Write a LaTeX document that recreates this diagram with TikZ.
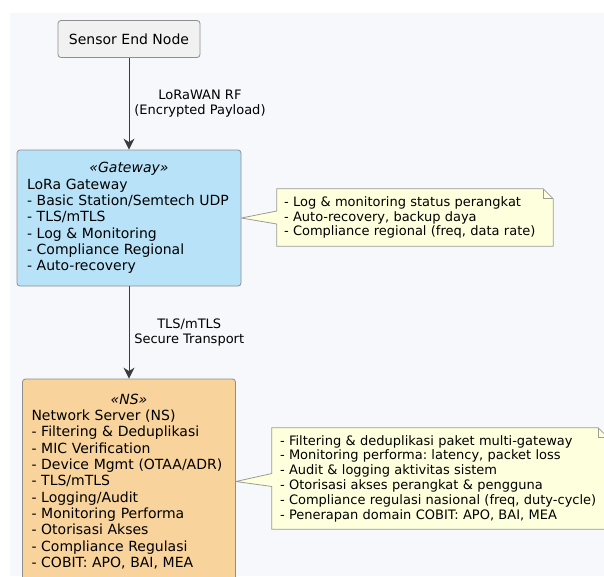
\documentclass[tikz,border=0pt]{standalone}
\usepackage{fontspec}
\setmainfont{DejaVu Sans}
\usetikzlibrary{arrows.meta,positioning,calc,backgrounds}
\setlength{\parindent}{0pt}
\frenchspacing
\definecolor{canvas}{HTML}{F7F8FB}
\definecolor{boxline}{HTML}{8E8E8E}
\definecolor{sensorfill}{HTML}{F1F1F1}
\definecolor{gwfill}{HTML}{B8E2F8}
\definecolor{nsfill}{HTML}{F8D39B}
\definecolor{notefill}{HTML}{FEFFDD}
\definecolor{noteline}{HTML}{9C9C94}
\definecolor{wire}{HTML}{3C3C3C}

\begin{document}
\begin{tikzpicture}[x=1pt,y=-1pt]
\tikzset{box/.style={draw=boxline,line width=0.8pt,rounded corners=3pt}}
\tikzset{body/.style={box,font=\fontsize{14}{16.3}\selectfont,align=left}}
\tikzset{notetext/.style={font=\fontsize{13}{14.8}\selectfont,align=left}}
\tikzset{notebody/.style={draw=noteline,fill=notefill,line width=0.8pt}}
\tikzset{flow/.style={draw=wire,line width=1pt,-{Stealth[length=11pt,width=11pt,inset=3.5pt]}}}
\tikzset{flowlabel/.style={font=\fontsize{13}{15.4}\selectfont,align=center,right=1.5pt}}

\useasboundingbox (0,0) rectangle (604,576);

% entities
\node[box,fill=sensorfill,minimum width=142pt,minimum height=37pt,
  font=\fontsize{14}{16}\selectfont] (sensor) at (129,39) {Sensor End Node};
\node[body,fill=gwfill,minimum width=224pt,minimum height=136pt,
  text width=204pt,inner xsep=10pt] (gw) at (129,218)
  {{\centering\itshape «Gateway»\par}
   LoRa Gateway\\
   - Basic Station/Semtech UDP\\
   - TLS/mTLS\\
   - Log \& Monitoring\\
   - Compliance Regional\\
   - Auto-recovery};
\node[body,fill=nsfill,minimum width=213pt,minimum height=205pt,
  text width=195pt,inner xsep=9pt] (ns) at (129,481.5)
  {{\centering\itshape «NS»\par}
   Network Server (NS)\\
   - Filtering \& Deduplikasi\\
   - MIC Verification\\
   - Device Mgmt (OTAA/ADR)\\
   - TLS/mTLS\\
   - Logging/Audit\\
   - Monitoring Performa\\
   - Otorisasi Akses\\
   - Compliance Regulasi\\
   - COBIT: APO, BAI, MEA};

% notes
\node[notetext,minimum width=276pt,minimum height=57pt,
  text width=262pt,inner xsep=7pt] (gwnote) at (415,217.5)
  {- Log \& monitoring status perangkat\\
   - Auto-recovery, backup daya\\
   - Compliance regional (freq, data rate)};
\node[notetext,minimum width=336pt,minimum height=101pt,
  text width=320pt,inner xsep=8pt] (nsnote) at (440,478.5)
  {- Filtering \& deduplikasi paket multi-gateway\\
   - Monitoring performa: latency, packet loss\\
   - Audit \& logging aktivitas sistem\\
   - Otorisasi akses perangkat \& pengguna\\
   - Compliance regulasi nasional (freq, duty-cycle)\\
   - Penerapan domain COBIT: APO, BAI, MEA};

\begin{scope}[on background layer]
\fill[canvas] (10,13) rectangle (604,576);
\draw[notebody] (gwnote.north west) -- ([xshift=-10pt]gwnote.north east)
  -- ([yshift=-10pt]gwnote.north east) -- (gwnote.south east)
  -- (gwnote.south west) -- ([yshift=-6.5pt]gwnote.west)
  -- (gw.east) -- ([yshift=6.5pt]gwnote.west) -- cycle;
\draw[notebody,fill=none] ([xshift=-10pt]gwnote.north east) -- ++(0,10)
  -- ([yshift=-10pt]gwnote.north east);
\draw[notebody] (nsnote.north west) -- ([xshift=-10pt]nsnote.north east)
  -- ([yshift=-10pt]nsnote.north east) -- (nsnote.south east)
  -- (nsnote.south west) -- ([yshift=-8pt]nsnote.west)
  -- (ns.east) -- ([yshift=5pt]nsnote.west) -- cycle;
\draw[notebody,fill=none] ([xshift=-10pt]nsnote.north east) -- ++(0,10)
  -- ([yshift=-10pt]nsnote.north east);
\end{scope}

% links
\draw[flow] (sensor) -- node[flowlabel] (rflabel) {LoRaWAN RF\\(Encrypted Payload)} (gw);
\draw[flow] (gw) -- node[flowlabel] (tlslabel) {TLS/mTLS\\Secure Transport} (ns);
\end{tikzpicture}
\end{document}
